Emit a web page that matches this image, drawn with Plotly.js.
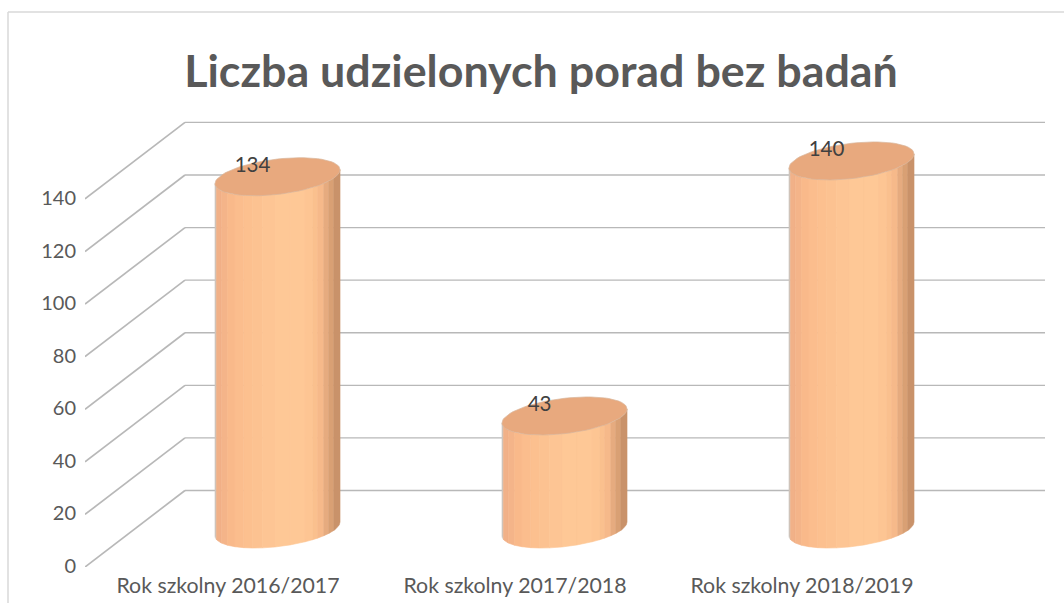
<!DOCTYPE html>
<html>
<head>
<meta charset="utf-8">
<script src="https://cdn.plot.ly/plotly-3.0.1.min.js"></script>
<style>html,body{margin:0;padding:0;background:#fff;overflow:hidden}#chart{width:1064px;height:603px}</style>
</head>
<body>
<div id="chart"></div>
<script>
// Data
var categories = ['Rok szkolny 2016/2017', 'Rok szkolny 2017/2018', 'Rok szkolny 2018/2019'];
var values = [134, 43, 140];
var valueTicks = [0, 20, 40, 60, 80, 100, 120, 140];
var chartTitle = 'Liczba udzielonych porad bez badań';

// Pseudo-3D projection, in axis units
var depthX = 0.3484, depthY = 29.1;      // back wall offset
var cylShiftX = 0.1725, cylBase = 14.45; // cylinder base centre from category tick
var cylA = 0.2178, cylB = 6.73, cylK = 2.66; // ellipse half-width, half-height, tilt
var labelDx = -0.087, labelDy = 3.7;

// Shaded bands across the cylinder (left to right)
var bandEdges = [0, .012, .05, .10, .16, .23, .30, .38, .48, .60, .72, .78, .82, .87, .91, .95, 1];
var bandColors = ['#cfc4bb','#f1b188','#f4b489','#f9b98a','#fbbd8d','#fcc08f','#fcc291','#fdc594','#fec896','#fec896','#fdc593','#fac08e','#f6b98a','#e6ab7f','#d9a074','#c9926a'];

var traces = [];

// Gridlines: walls and floor diagonals
var gx = [], gy = [];
valueTicks.forEach(function (t) {
  gx.push(-0.4983, -0.4983 + depthX, null);
  gy.push(t, t + depthY, null);
});
traces.push({type:'scatter', mode:'lines', x:gx, y:gy, line:{color:'#b8b8b8', width:1.7}, hoverinfo:'skip', showlegend:false});
var bx = [], by = [];
valueTicks.forEach(function (t) {
  bx.push(-0.4983 + depthX, 2.8467, null);
  by.push(t + depthY, t + depthY, null);
});
traces.push({type:'scatter', mode:'lines', x:bx, y:by, line:{color:'#b8b8b8', width:1.3}, hoverinfo:'skip', showlegend:false});

function lowerY(f) { // lower branch of the tilted ellipse at fraction f of its width
  var c = 2 * f - 1;
  return -Math.sqrt(Math.max(0, 1 - c * c)) * cylB + cylK * c;
}

values.forEach(function (v, i) {
  var cx = i + cylShiftX, x0 = cx - cylA, w = 2 * cylA;
  bandColors.forEach(function (col, b) {
    var xs = [], ys = [], n = 8, f0 = bandEdges[b], f1 = bandEdges[b + 1], k, f;
    for (k = 0; k <= n; k++) { f = f0 + (f1 - f0) * k / n; xs.push(x0 + w * f); ys.push(cylBase + v + lowerY(f)); }
    for (k = n; k >= 0; k--) { f = f0 + (f1 - f0) * k / n; xs.push(x0 + w * f); ys.push(cylBase + lowerY(f)); }
    xs.push(xs[0]); ys.push(ys[0]);
    traces.push({type:'scatter', mode:'lines', x:xs, y:ys, fill:'toself', fillcolor:col,
      line:{color:col, width:0.6}, hoverinfo:'skip', showlegend:false});
  });
  // top ellipse
  var ex = [], ey = [];
  for (var a = 0; a <= 72; a++) {
    var t = a / 72 * 2 * Math.PI;
    ex.push(cx + cylA * Math.cos(t));
    ey.push(cylBase + v + cylB * Math.sin(t) + cylK * Math.cos(t));
  }
  traces.push({type:'scatter', mode:'lines', x:ex, y:ey, fill:'toself', fillcolor:'#e8a97e',
    line:{color:'#d8b49a', width:0.7}, hoverinfo:'skip', showlegend:false});
});

// Data labels
traces.push({
  type:'scatter', mode:'text',
  x: values.map(function (v, i) { return i + cylShiftX + labelDx; }),
  y: values.map(function (v) { return cylBase + v + labelDy; }),
  text: values.map(String), textposition:'middle center',
  textfont:{family:'Lato, sans-serif', size:20.5, color:'#404040'},
  hoverinfo:'skip', showlegend:false
});

var layout = {
  width:1064, height:603, paper_bgcolor:'#fff', plot_bgcolor:'rgba(0,0,0,0)',
  margin:{l:85, r:19, t:100, b:36}, showlegend:false,
  font:{family:'Lato, sans-serif', color:'#595959'},
  title:{text:chartTitle, x:541/1064, xanchor:'center', y:1-71/603, yanchor:'middle',
    font:{family:'Lato, sans-serif', size:44.8, color:'#595959', weight:700}},
  xaxis:{range:[-0.4983, 2.8467], tickvals:[0,1,2], ticktext:categories, showgrid:false, zeroline:false,
    showline:false, ticks:'', tickfont:{size:21.3, color:'#595959'}, ticklabelstandoff:4, fixedrange:true},
  yaxis:{range:[0, 467/2.629], tickvals:valueTicks, showgrid:false, zeroline:false,
    showline:false, ticks:'', tickfont:{size:20, color:'#595959'}, ticklabelstandoff:8, ticklabelshift:-1, fixedrange:true},
  shapes:[
    {type:'line', xref:'paper', yref:'paper', x0:(8-85)/960, x1:(8-85)/960, y0:-36/467, y1:(567-12)/467, line:{color:'#d9d9d9', width:1.5}},
    {type:'line', xref:'paper', yref:'paper', x0:(8-85)/960, x1:(1064-85)/960, y0:(567-12)/467, y1:(567-12)/467, line:{color:'#d9d9d9', width:1.5}}
  ]
};
Plotly.newPlot('chart', traces, layout, {displayModeBar:false, staticPlot:true});
</script>
</body>
</html>
